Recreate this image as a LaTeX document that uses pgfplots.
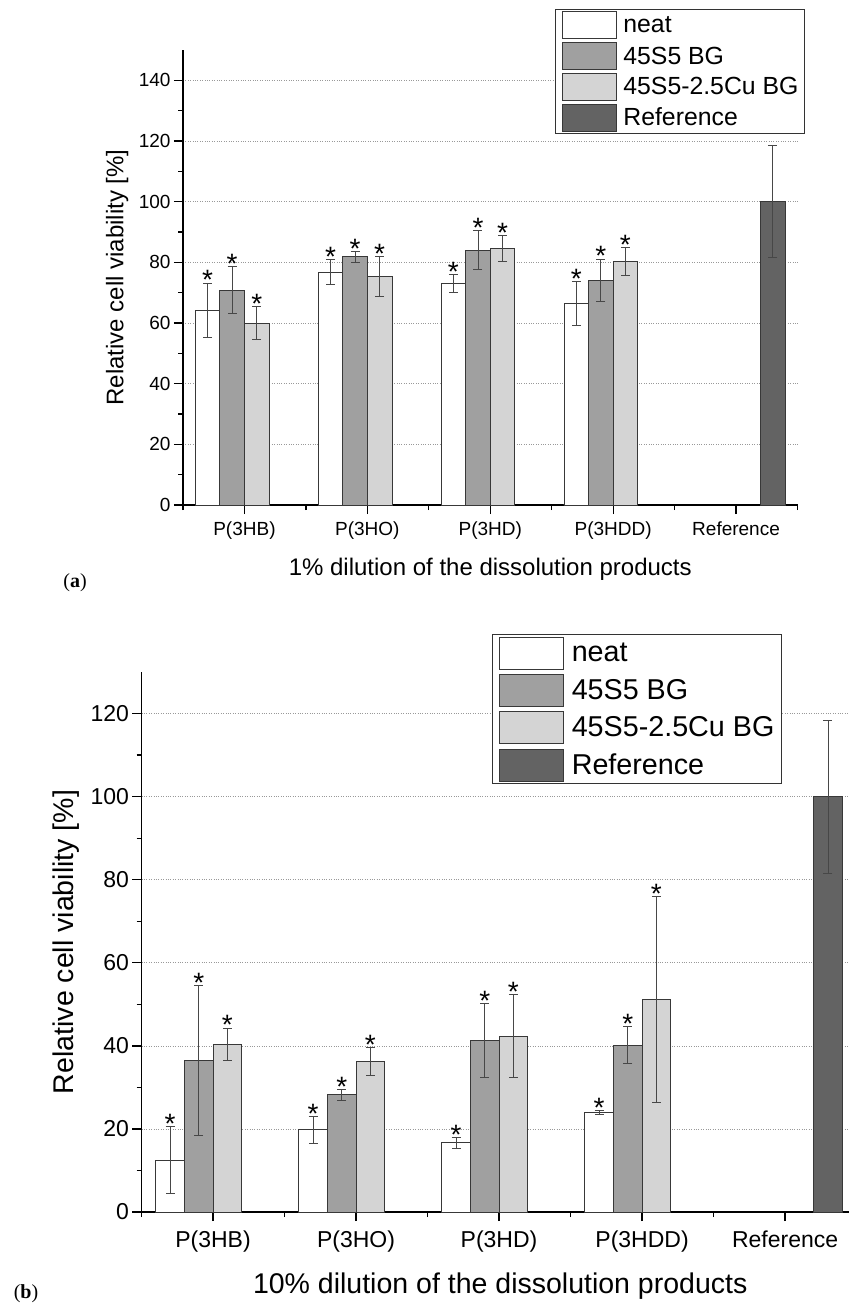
\documentclass[border=0pt]{standalone}
\usepackage{fontspec}
\setmainfont{Liberation Sans}
\newfontfamily\panelfont{Liberation Serif}
\usepackage{pgfplots}
\usepackage{pgfplotstable}
\pgfplotsset{compat=1.18}

\definecolor{bgA}{RGB}{160,160,160}
\definecolor{bgB}{RGB}{212,212,212}
\definecolor{refC}{RGB}{99,99,99}

% panel (a): 1% dilution, columns: position, mean, sd
\pgfplotstableread{
x y e
1 64.2 9.0
2 76.7 4.1
3 73.0 3.0
4 66.4 7.2
}\neatA
\pgfplotstableread{
x y e
1 70.8 7.7
2 81.8 1.8
3 84.0 6.4
4 74.1 7.0
}\bgAa
\pgfplotstableread{
x y e
1 60.0 5.5
2 75.2 6.6
3 84.5 4.2
4 80.3 4.5
}\cuA
\pgfplotstableread{
x y e
5 100.0 18.4
}\refA

% panel (b): 10% dilution
\pgfplotstableread{
x y e
1 12.5 8.0
2 19.8 3.3
3 16.7 1.3
4 23.9 0.45
}\neatB
\pgfplotstableread{
x y e
1 36.5 18.0
2 28.2 1.25
3 41.4 8.9
4 40.2 4.5
}\bgAb
\pgfplotstableread{
x y e
1 40.4 3.9
2 36.2 3.4
3 42.3 10.0
4 51.2 24.8
}\cuB
\pgfplotstableread{
x y e
5 100.0 18.4
}\refB

\pgfplotsset{
  panel/.style={
    scale only axis,
    axis x line*=bottom, axis y line*=left,
    axis line style={line width=1.6pt, black},
    tick align=outside,
    major tick length=9pt, minor tick length=5pt,
    tick style={line width=1.3pt, black},
    xmin=0.5, ymin=0,
    xtick={1,2,3,4,5},
    xticklabels={P(3HB),P(3HO),P(3HD),P(3HDD),Reference},
    minor xtick={0.5,1.5,2.5,3.5,4.5,5.5},
    minor y tick num=1,
    ymajorgrids,
    grid style={dotted, black!40, line width=0.6pt},
    /pgf/number format/assume math mode=true,
    legend cell align=left,
  },
  errplot/.style={
    forget plot, draw=none, mark=none,
    error bars/.cd, y dir=both, y explicit,
    error bar style={draw=black!72, line width=0.9pt},
    error mark options={rotate=90, mark size=4.5pt, draw=black!72, line width=0.9pt},
  },
  stars/.style={
    forget plot, draw=none, mark=none,
    nodes near coords={*},
    every node near coord/.style={font=\fontsize{28}{28}\selectfont, anchor=base, yshift=-7pt, inner sep=0pt},
  },
}

\begin{document}
\begin{tikzpicture}
\useasboundingbox (0,0) rectangle (849pt,-1305pt);

\pgfplotsset{
  barsA/.style={ybar, bar width=0.2, draw=black!78, line width=0.8pt,
    legend image code/.code={\draw[##1, line width=0.8pt] (0pt,-13.5pt) rectangle (54pt,13.5pt);}},
  barsB/.style={ybar, bar width=0.2, draw=black!78, line width=0.8pt,
    legend image code/.code={\draw[##1, line width=0.8pt] (0pt,-16pt) rectangle (64pt,16pt);}},
}

% ---------- (a) ----------
\begin{axis}[panel,
  at={(183pt,-505pt)}, anchor=south west,
  width=614.5pt, height=455pt,
  xmax=5.5, ymax=150,
  ytick={0,20,...,140},
  tick label style={font=\fontsize{19}{22}\selectfont},
  xticklabel style={yshift=-4pt},
  every axis x label/.style={at={(axis description cs:0.5,0)}, anchor=base, yshift=-70pt,
    font=\fontsize{24}{28}\selectfont},
  every axis y label/.style={at={(axis description cs:-0.107,0.5)}, rotate=90, anchor=center,
    font=\fontsize{24}{28}\selectfont},
  xlabel={1\% dilution of the dissolution products},
  ylabel={Relative cell viability [\%]},
  legend style={at={(axis description cs:1.012,1.090)}, anchor=north east,
    draw=black!80, line width=0.8pt, font=\fontsize{24.8}{26}\selectfont,
    inner xsep=6pt, inner ysep=2pt, row sep=3pt, column sep=7pt,
    nodes={inner sep=0pt}},
]
\addplot[barsA, fill=white, bar shift=-0.3] table[x=x, y=y] {\neatA};
\addplot[barsA, fill=bgA, bar shift=-0.1] table[x=x, y=y] {\bgAa};
\addplot[barsA, fill=bgB, bar shift=0.1] table[x=x, y=y] {\cuA};
\addplot[barsA, fill=refC, bar shift=0.3] table[x=x, y=y] {\refA};
\legend{neat, 45S5 BG, 45S5-2.5Cu BG, Reference}
\addplot[errplot] table[x expr=\thisrow{x}-0.3, y=y, y error=e] {\neatA};
\addplot[errplot] table[x expr=\thisrow{x}-0.1, y=y, y error=e] {\bgAa};
\addplot[errplot] table[x expr=\thisrow{x}+0.1, y=y, y error=e] {\cuA};
\addplot[errplot] table[x expr=\thisrow{x}+0.3, y=y, y error=e] {\refA};
\addplot[stars] table[x expr=\thisrow{x}-0.3, y expr=\thisrow{y}+\thisrow{e}] {\neatA};
\addplot[stars] table[x expr=\thisrow{x}-0.1, y expr=\thisrow{y}+\thisrow{e}] {\bgAa};
\addplot[stars] table[x expr=\thisrow{x}+0.1, y expr=\thisrow{y}+\thisrow{e}] {\cuA};
\end{axis}
\node[font=\panelfont\fontsize{20}{22}\selectfont] at (75pt,-583pt) {(\textbf{a})};

% ---------- (b) ----------
\begin{axis}[panel,
  at={(141.5pt,-1212pt)}, anchor=south west,
  width=707.5pt, height=540pt,
  xmax=5.447, ymax=130,
  ytick={0,20,...,120},
  tick label style={font=\fontsize{23}{26}\selectfont},
  xticklabel style={yshift=-6pt},
  every axis x label/.style={at={(axis description cs:0.507,0)}, anchor=base, yshift=-81pt,
    font=\fontsize{28.5}{32}\selectfont},
  every axis y label/.style={at={(axis description cs:-0.107,0.5)}, rotate=90, anchor=center,
    font=\fontsize{28.5}{32}\selectfont},
  xlabel={10\% dilution of the dissolution products},
  ylabel={Relative cell viability [\%]},
  legend style={at={(axis description cs:0.905,1.070)}, anchor=north east,
    draw=black!80, line width=0.8pt, font=\fontsize{28.7}{30}\selectfont,
    inner xsep=7pt, inner ysep=2pt, row sep=4.5pt, column sep=8pt,
    nodes={inner sep=0pt}},
]
\addplot[barsB, fill=white, bar shift=-0.3] table[x=x, y=y] {\neatB};
\addplot[barsB, fill=bgA, bar shift=-0.1] table[x=x, y=y] {\bgAb};
\addplot[barsB, fill=bgB, bar shift=0.1] table[x=x, y=y] {\cuB};
\addplot[barsB, fill=refC, bar shift=0.3] table[x=x, y=y] {\refB};
\legend{neat, 45S5 BG, 45S5-2.5Cu BG, Reference}
\addplot[errplot] table[x expr=\thisrow{x}-0.3, y=y, y error=e] {\neatB};
\addplot[errplot] table[x expr=\thisrow{x}-0.1, y=y, y error=e] {\bgAb};
\addplot[errplot] table[x expr=\thisrow{x}+0.1, y=y, y error=e] {\cuB};
\addplot[errplot] table[x expr=\thisrow{x}+0.3, y=y, y error=e] {\refB};
\addplot[stars] table[x expr=\thisrow{x}-0.3, y expr=\thisrow{y}+\thisrow{e}] {\neatB};
\addplot[stars] table[x expr=\thisrow{x}-0.1, y expr=\thisrow{y}+\thisrow{e}] {\bgAb};
\addplot[stars] table[x expr=\thisrow{x}+0.1, y expr=\thisrow{y}+\thisrow{e}] {\cuB};
\end{axis}
\node[font=\panelfont\fontsize{20}{22}\selectfont] at (26pt,-1294pt) {(\textbf{b})};
\end{tikzpicture}
\end{document}
